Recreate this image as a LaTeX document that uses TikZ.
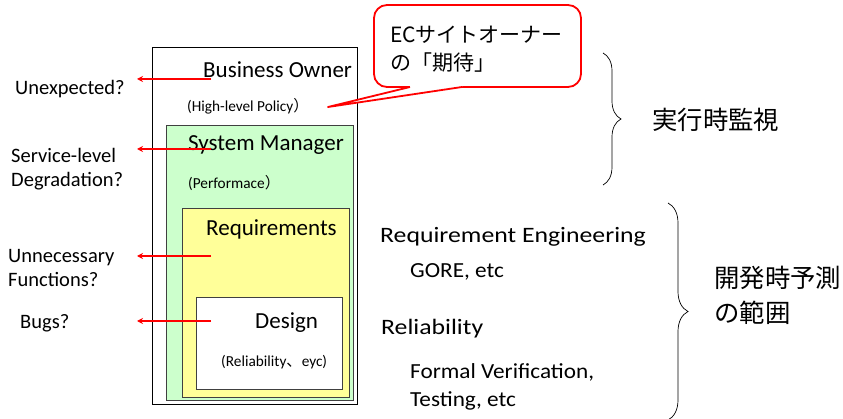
\documentclass[tikz,border=0pt]{standalone}
\usepackage{fontspec}
\setmainfont{Carlito}
\newfontfamily\cjk{Noto Sans CJK JP}
\newfontfamily\wideA[FakeStretch=1.17]{Carlito}
\newfontfamily\wideB[FakeStretch=1.08]{Carlito}
\usetikzlibrary{decorations.pathreplacing,arrows.meta}
\definecolor{boxgreen}{HTML}{CCFFCC}
\definecolor{boxyellow}{HTML}{FFFF99}
\definecolor{edgegray}{HTML}{404040}
\tikzset{
  layer/.style={draw=edgegray, line width=0.8pt, inner sep=0pt},
  txt/.style={inner sep=0pt, anchor=west, font=\fontsize{23}{26}\selectfont},
  small/.style={inner sep=0pt, anchor=west, font=\fontsize{15.3}{18}\selectfont},
  side/.style={inner sep=0pt, anchor=west, align=left, font=\fontsize{20.5}{24}\selectfont},
  rtxt/.style={inner sep=0pt, anchor=west, align=left, font=\wideA\fontsize{22}{28}\selectfont},
  rsub/.style={inner sep=0pt, anchor=west, align=left, font=\wideB\fontsize{21.5}{28}\selectfont},
  jp/.style={inner sep=0pt, anchor=west, align=left, font=\cjk\fontsize{25.4}{35}\selectfont},
  redarrow/.style={draw=red, line width=1.5pt, -{Stealth[length=6pt,width=6pt]}},
  bracestyle/.style={draw=black, line width=0.7pt, decorate, decoration={brace, amplitude=#1}}
}
\begin{document}
\begin{tikzpicture}[x=1pt,y=-1pt]
\useasboundingbox (0,0) rectangle (843,419);
% nested boxes
\node[layer, draw=black, line width=0.6pt, fill=white, minimum width=205pt, minimum height=357pt, anchor=north west] (outer) at (152,47) {};
\node[layer, fill=boxgreen, minimum width=187pt, minimum height=275pt, anchor=north west] (green) at (166,125) {};
\node[layer, fill=boxyellow, minimum width=167pt, minimum height=189pt, anchor=north west] (yellow) at (182,208) {};
\node[layer, fill=white, minimum width=146pt, minimum height=92pt, anchor=north west] (design) at (196,297) {};
% box texts
\node[txt] (tBO) at (203,70) {Business Owner};
\node[small] (tHL) at (187,106) {(High-level Policy{\cjk ）}};
\node[txt] (tSM) at (188,145) {System Manager};
\node[small] (tPf) at (188,183) {(Performace{\cjk ）}};
\node[txt] (tRq) at (206,229) {Requirements};
\node[txt] (tDs) at (255,323) {Design};
\node[small] (tRl) at (221,362) {(Reliability{\cjk 、}eyc)};
% left labels
\node[side] (lU) at (15,89) {Unexpected?};
\node[side] (lS) at (11,169) {Service-level\\Degradation?};
\node[side] (lN) at (8,268) {Unnecessary\\Functions?};
\node[side] (lB) at (20,323) {Bugs?};
% arrows
\coordinate (a1s) at (211,79);  \coordinate (a1e) at (137,79);
\coordinate (a2s) at (211,149); \coordinate (a2e) at (137,149);
\coordinate (a3s) at (211,256); \coordinate (a3e) at (137,256);
\coordinate (a4s) at (211,321); \coordinate (a4e) at (137,321);
\draw[redarrow] (a1s) -- (a1e);
\draw[redarrow] (a2s) -- (a2e);
\draw[redarrow] (a3s) -- (a3e);
\draw[redarrow] (a4s) -- (a4e);
% callout
\draw[red, line width=1.8pt, fill=white, rounded corners=13pt] (374,5) rectangle (581,87);
\coordinate (tip) at (328,107);
\coordinate (b1) at (410,87);
\coordinate (b2) at (462,87);
\fill[white] (tip) -- (b1) -- (410,84) -- (462,84) -- (b2) -- cycle;
\draw[red, line width=1.8pt, line join=round] (b1) -- (tip) -- (b2);
\node[jp, font=\cjk\fontsize{21}{28}\selectfont] (callout) at (390,49) {EC{\cjk サイトオーナー}\\の「期待」};
% right texts
\node[rtxt] (rRE) at (380,237) {Requirement Engineering};
\node[rsub] (rGO) at (410,272) {GORE, etc};
\node[rtxt] (rRl) at (381,329) {Reliability};
\node[rsub] (rFV) at (410,387) {Formal Verification,\\Testing, etc};
% braces
\coordinate (br1a) at (603,53);  \coordinate (br1b) at (603,185);
\coordinate (br2a) at (668,203); \coordinate (br2b) at (668,420);
\draw[bracestyle=18pt] (br1a) -- (br1b);
\draw[bracestyle=20pt] (br2a) -- (br2b);
\node[jp] (jRT) at (652,120) {実行時監視};
\node[jp] (jDV) at (714,295) {開発時予測\\の範囲};
\end{tikzpicture}
\end{document}
